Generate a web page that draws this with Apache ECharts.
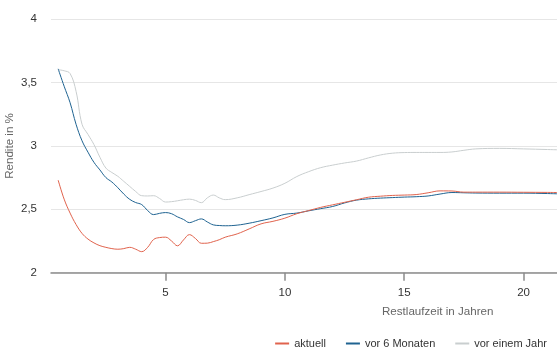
<!DOCTYPE html>
<html>
<head>
<meta charset="utf-8">
<script src="https://cdn.jsdelivr.net/npm/echarts@6/dist/echarts.min.js"></script>
<style>
html,body{margin:0;padding:0;background:#fff;}
#c{width:557px;height:356px;}
</style>
</head>
<body>
<div id="c"></div>
<script>
const maturities = [0.5,0.75,1,1.25,1.5,1.75,2,2.25,2.5,2.75,3,3.25,3.5,3.75,4,4.25,4.5,4.75,5,5.25,5.5,5.75,6,6.25,6.5,6.75,7,7.25,7.5,
  8,8.5,9,9.5,10,10.5,11,11.5,12,12.5,13,13.5,14,14.5,15,15.5,16,16.5,17,17.5,18,19,20,21,21.4];
const aktuell = [2.73,2.58,2.47,2.38,2.31,2.265,2.235,2.213,2.2,2.19,2.185,2.19,2.2,2.185,2.166,2.2,2.262,2.277,2.28,2.25,2.212,2.258,2.3,2.27,2.232,2.233,2.245,2.26,2.28,
  2.306,2.345,2.385,2.405,2.43,2.465,2.49,2.515,2.535,2.555,2.575,2.595,2.603,2.609,2.612,2.616,2.63,2.645,2.644,2.635,2.635,2.635,2.634,2.633,2.632];
const vor6Monaten = [3.607,3.47,3.34,3.17,3.04,2.95,2.87,2.81,2.75,2.715,2.67,2.62,2.578,2.553,2.537,2.49,2.458,2.468,2.474,2.465,2.44,2.42,2.395,2.41,2.424,2.40,2.377,2.372,2.37,
  2.375,2.39,2.41,2.432,2.46,2.47,2.488,2.505,2.522,2.55,2.572,2.582,2.588,2.592,2.596,2.599,2.605,2.62,2.632,2.63,2.628,2.627,2.627,2.624,2.622];
const vorEinemJahr = [3.6,3.592,3.57,3.43,3.17,3.09,3.01,2.91,2.825,2.79,2.76,2.72,2.68,2.64,2.607,2.605,2.607,2.585,2.557,2.56,2.567,2.575,2.58,2.57,2.552,2.59,2.612,2.59,2.576,
  2.59,2.615,2.64,2.667,2.705,2.758,2.797,2.828,2.848,2.865,2.88,2.905,2.928,2.942,2.947,2.948,2.948,2.948,2.952,2.965,2.976,2.98,2.976,2.971,2.969];
const xTicks = [5,10,15,20];
const seriesNames = ['aktuell','vor 6 Monaten','vor einem Jahr'];

const FONT = '"Liberation Sans", Arial, sans-serif';
function pairs(vals){ return maturities.map((m,i)=>[m, vals[i]]); }

const chart = echarts.init(document.getElementById('c'), null, {renderer:'canvas'});
chart.setOption({
  animation:false,
  textStyle:{fontFamily:FONT},
  grid:{left:51,right:0,top:19,bottom:83.3,containLabel:false,outerBoundsMode:'none'},
  xAxis:{
    type:'value', min:0.2, max:21.4,
    axisLine:{show:true,lineStyle:{color:'#8c8c8c',width:1.5}},
    axisTick:{show:true,length:8,customValues:xTicks,lineStyle:{color:'#8c8c8c',width:1.5}},
    axisLabel:{customValues:xTicks,color:'#333',fontSize:11.5,margin:14,fontFamily:FONT},
    splitLine:{show:false}
  },
  yAxis:{
    type:'value', min:2, max:4, interval:0.5,
    axisLine:{show:false}, axisTick:{show:false},
    axisLabel:{color:'#333',fontSize:11.5,margin:14,fontFamily:FONT,
      formatter:v=>String(v).replace('.',',')},
    splitLine:{lineStyle:{color:'#e6e6e6',width:1}}
  },
  graphic:[
    {type:'text',left:382,top:306,style:{text:'Restlaufzeit in Jahren',fill:'#666',font:'11.6px '+FONT}},
    {type:'text',x:10,y:146,rotation:Math.PI/2,style:{text:'Rendite in %',fill:'#666',font:'11.6px '+FONT,align:'center',verticalAlign:'middle'}}
  ],
  legend:{
    right:10, top:338, padding:0, itemWidth:14, itemHeight:2, itemGap:20, icon:'rect',
    textStyle:{color:'#333',fontSize:11,fontFamily:FONT},
    data:seriesNames
  },
  series:[
    {name:seriesNames[0],type:'line',data:pairs(aktuell),showSymbol:false,smooth:0.4,lineStyle:{color:'#e0634d',width:1},itemStyle:{color:'#e0634d'},z:3},
    {name:seriesNames[1],type:'line',data:pairs(vor6Monaten),showSymbol:false,smooth:0.4,lineStyle:{color:'#1f6391',width:1},itemStyle:{color:'#1f6391'},z:2},
    {name:seriesNames[2],type:'line',data:pairs(vorEinemJahr),showSymbol:false,smooth:0.4,lineStyle:{color:'#c9cecf',width:1},itemStyle:{color:'#c9cecf'},z:1}
  ]
});
</script>
</body>
</html>
